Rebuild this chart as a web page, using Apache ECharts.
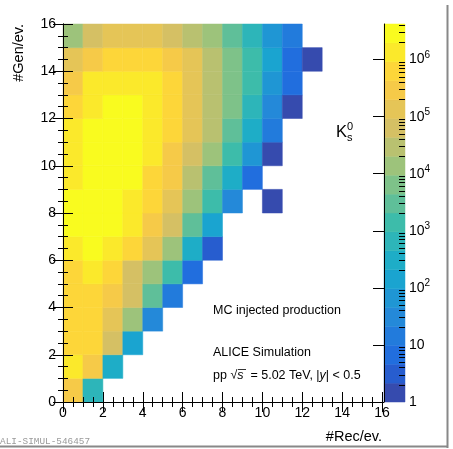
<!DOCTYPE html>
<html>
<head>
<meta charset="utf-8">
<script src="https://cdn.jsdelivr.net/npm/echarts@6/dist/echarts.min.js"></script>
<style>
  html, body { margin: 0; padding: 0; background: #fff; }
  #main { width: 453px; height: 449px; }
</style>
</head>
<body>
<div id="main"></div>
<script>
// tick labels
var axisTicks = [0, 2, 4, 6, 8, 10, 12, 14, 16];
var zDecades = [0, 1, 2, 3, 4, 5, 6];
var zDecadeLabels = ['1', '10', '10{s|2}', '10{s|3}', '10{s|4}', '10{s|5}', '10{s|6}'];
var nContours = 20;

// entries per bin: counts[gen][rec], 0 = empty bin
var counts = [
  [300000, 650],
  [1400000, 300000, 300],
  [650000, 700000, 55000, 140],
  [620000, 680000, 140000, 14000, 30],
  [640000, 600000, 300000, 55000, 3000, 20],
  [700000, 1400000, 650000, 65000, 14000, 1400, 7],
  [1400000, 2600000, 1300000, 650000, 140000, 14000, 300, 3],
  [3100000, 3600000, 3300000, 1500000, 300000, 55000, 3000, 140],
  [3400000, 4200000, 3500000, 1600000, 700000, 140000, 14000, 1400, 30, 0, 2],
  [1700000, 3800000, 3900000, 2800000, 650000, 300000, 30000, 3000, 300, 7],
  [1600000, 3500000, 3700000, 2900000, 1300000, 300000, 65000, 14000, 1400, 65, 2],
  [1500000, 3000000, 3400000, 2700000, 1400000, 650000, 140000, 30000, 3000, 300, 15],
  [650000, 1400000, 2600000, 2400000, 1300000, 650000, 140000, 30000, 6500, 650, 30, 2],
  [300000, 1300000, 1400000, 1500000, 1200000, 650000, 140000, 30000, 6500, 1400, 65, 7],
  [100000, 300000, 650000, 650000, 640000, 300000, 140000, 30000, 6500, 1400, 140, 7, 1],
  [18000, 60000, 120000, 130000, 120000, 60000, 28000, 13000, 2800, 500, 60, 18]
];

// ROOT kBird palette
var birdStops = [0, 0.125, 0.25, 0.375, 0.5, 0.625, 0.75, 0.875, 1];
var birdR = [0.2082, 0.0592, 0.0780, 0.0232, 0.1802, 0.5301, 0.8186, 0.9956, 0.9764];
var birdG = [0.1664, 0.3599, 0.5041, 0.6419, 0.7178, 0.7492, 0.7328, 0.7862, 0.9832];
var birdB = [0.5293, 0.8684, 0.8385, 0.7914, 0.6425, 0.4662, 0.3499, 0.1968, 0.0539];

function bird(f) {
  var k = 0;
  while (k < birdStops.length - 2 && f > birdStops[k + 1]) k++;
  var t = (f - birdStops[k]) / (birdStops[k + 1] - birdStops[k]);
  // slight wash towards white, the printed figure looks a bit faded
  function ch(a) { var v = 255 * (a[k] + (a[k + 1] - a[k]) * t); return Math.round(v + (255 - v) * 0.07); }
  return 'rgb(' + ch(birdR) + ',' + ch(birdG) + ',' + ch(birdB) + ')';
}

var maxCount = 0;
counts.forEach(function (row) { row.forEach(function (c) { if (c > maxCount) maxCount = c; }); });
var logMax = Math.log10(maxCount);
var step = logMax / nContours;

var palette = [];
var pieces = [];
var barData = [];
for (var i = 0; i < nContours; i++) {
  var idx = Math.floor((i + 0.99) * 255 / nContours);
  palette.push(bird(Math.min(idx / 254, 1)));
  var p = { gte: i * step, color: palette[i] };
  if (i < nContours - 1) p.lt = (i + 1) * step; else p.lte = logMax + 1;
  pieces.push(p);
  barData.push([i * step, (i + 1) * step, (i + 0.5) * step]);
}

var heatData = [];
counts.forEach(function (row, gen) {
  row.forEach(function (c, rec) {
    if (c > 0) heatData.push([rec, gen, Math.log10(c), c]);
  });
});

var minorTicks = [];
for (var d = 0; d < 7; d++) {
  for (var m = 2; m < 10; m++) {
    var lv = d + Math.log10(m);
    if (lv < logMax) minorTicks.push(lv);
  }
}

var font = 'Liberation Sans';
var axisLine = { show: true, lineStyle: { color: '#000', width: 1 } };

function mainAxis(pos, labels) {
  return {
    type: 'value', gridIndex: 0, position: pos, min: 0, max: 16, interval: 2, z: 10,
    axisLine: axisLine,
    axisTick: { show: true, inside: true, length: 10, lineStyle: { color: '#000' } },
    minorTick: { show: true, splitNumber: 4, length: 5, lineStyle: { color: '#000' } },
    splitLine: { show: false },
    axisLabel: labels ? {
      show: true, fontFamily: font, fontSize: 14, color: '#000',
      margin: pos === 'bottom' ? 4 : 7,
      customValues: axisTicks
    } : { show: false }
  };
}

var myChart = echarts.init(document.getElementById('main'), null, { renderer: 'canvas' });

myChart.setOption({
  animation: false,
  backgroundColor: '#fff',
  grid: [
    { left: 63, top: 24, width: 319, height: 378 },
    { left: 384, top: 24, width: 21, height: 378 }
  ],
  xAxis: [
    mainAxis('bottom', true),
    mainAxis('top', false),
    { type: 'value', gridIndex: 1, min: 0, max: 1, show: false }
  ],
  yAxis: [
    mainAxis('left', true),
    mainAxis('right', false),
    {
      type: 'value', gridIndex: 1, position: 'right', min: 0, max: logMax, z: 10,
      axisLine: axisLine,
      axisTick: { show: true, inside: true, length: 11, customValues: zDecades, lineStyle: { color: '#000' } },
      splitLine: { show: false },
      axisLabel: {
        show: true, customValues: zDecades, margin: 4, fontFamily: font, fontSize: 14, color: '#000',
        formatter: function (v) { return zDecadeLabels[zDecades.indexOf(Math.round(v))]; },
        rich: { s: { fontFamily: font, fontSize: 10, padding: [0, 0, 9, 0], color: '#000' } }
      }
    },
    {
      type: 'value', gridIndex: 1, position: 'right', min: 0, max: logMax, z: 10,
      axisLine: { show: false },
      axisTick: { show: true, inside: true, length: 6, customValues: minorTicks, lineStyle: { color: '#000' } },
      splitLine: { show: false },
      axisLabel: { show: false }
    }
  ],
  visualMap: {
    type: 'piecewise', show: false, dimension: 2, seriesIndex: [0, 1], pieces: pieces
  },
  series: [
    {
      type: 'custom', name: 'K0s', xAxisIndex: 0, yAxisIndex: 0,
      encode: { x: 0, y: 1 },
      data: heatData,
      renderItem: function (params, api) {
        var x = api.value(0), y = api.value(1);
        var a = api.coord([x, y + 1]);
        var b = api.coord([x + 1, y]);
        var c = api.visual('color');
        return {
          type: 'rect',
          shape: { x: a[0], y: a[1], width: b[0] - a[0], height: b[1] - a[1] },
          style: { fill: c, stroke: c, lineWidth: 0.5 }
        };
      }
    },
    {
      type: 'custom', name: 'palette', xAxisIndex: 2, yAxisIndex: 2,
      encode: { y: [0, 1] },
      data: barData,
      renderItem: function (params, api) {
        var a = api.coord([0, api.value(1)]);
        var b = api.coord([1, api.value(0)]);
        var c = api.visual('color');
        return {
          type: 'rect',
          shape: { x: a[0], y: a[1], width: b[0] - a[0], height: b[1] - a[1] },
          style: { fill: c, stroke: c, lineWidth: 0.5 }
        };
      }
    }
  ],
  graphic: [
    { type: 'text', x: 19, y: 24, rotation: Math.PI / 2,
      style: { text: '#Gen/ev.', fontFamily: font, fontSize: 14.5, fill: '#000',
               align: 'right', textAlign: 'right', verticalAlign: 'middle', textVerticalAlign: 'middle' } },
    { type: 'text', x: 382, y: 437,
      style: { text: '#Rec/ev.', fontFamily: font, fontSize: 14.5, fill: '#000',
               align: 'right', textAlign: 'right', verticalAlign: 'middle', textVerticalAlign: 'middle' } },
    { type: 'text', x: 336, y: 132,
      style: { text: 'K', fontFamily: font, fontSize: 16.5, fill: '#000', verticalAlign: 'middle', textVerticalAlign: 'middle' } },
    { type: 'text', x: 347, y: 127,
      style: { text: '0', fontFamily: font, fontSize: 11, fill: '#000', verticalAlign: 'middle', textVerticalAlign: 'middle' } },
    { type: 'text', x: 347, y: 138,
      style: { text: 's', fontFamily: font, fontSize: 11, fill: '#000', verticalAlign: 'middle', textVerticalAlign: 'middle' } },
    { type: 'text', x: 213, y: 311,
      style: { text: 'MC injected production', fontFamily: font, fontSize: 12.5, fill: '#000', verticalAlign: 'middle', textVerticalAlign: 'middle' } },
    { type: 'text', x: 213, y: 353,
      style: { text: 'ALICE Simulation', fontFamily: font, fontSize: 12.5, fill: '#000', verticalAlign: 'middle', textVerticalAlign: 'middle' } },
    { type: 'text', x: 213, y: 376,
      style: {
        text: 'pp {r|\u221A}{i|s}  = 5.02 TeV, |{i|y}| < 0.5',
        fontFamily: font, fontSize: 12.5, fill: '#000', verticalAlign: 'middle', textVerticalAlign: 'middle',
        rich: {
          r: { fontFamily: font, fontSize: 12.5, fill: '#000' },
          i: { fontFamily: font, fontSize: 12.5, fontStyle: 'italic', fill: '#000' }
        }
      } },
    { type: 'line', shape: { x1: 238, y1: 369.5, x2: 246, y2: 369.5 }, style: { stroke: '#000', lineWidth: 0.8 } },
    { type: 'text', x: 0, y: 442,
      style: { text: 'ALI-SIMUL-546457', fontFamily: 'Liberation Mono', fontSize: 9.4, fill: '#9a9a9a', verticalAlign: 'middle', textVerticalAlign: 'middle' } },
    { type: 'line', shape: { x1: 447.5, y1: 5, x2: 447.5, y2: 448 }, style: { stroke: '#888', lineWidth: 2 } },
    { type: 'line', shape: { x1: 0, y1: 446.5, x2: 448, y2: 446.5 }, style: { stroke: '#888', lineWidth: 2 } }
  ]
});
</script>
</body>
</html>
